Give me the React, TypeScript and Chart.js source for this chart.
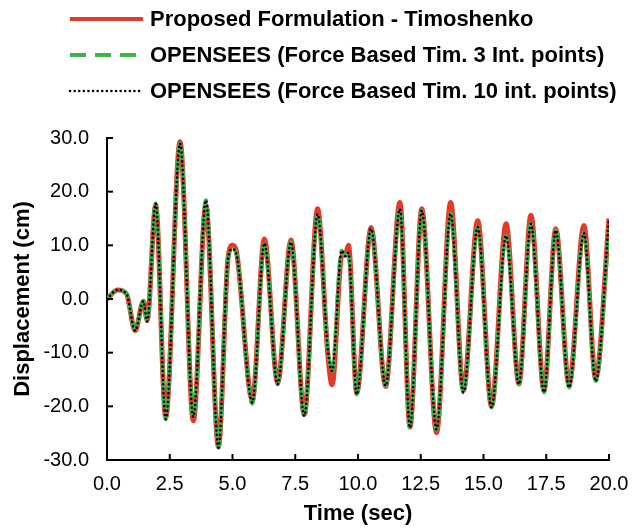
import React, { useEffect, useRef } from "react";
import { Chart, registerables } from "chart.js";

Chart.register(...registerables);

const times = [0, 0.42, 0.78, 1.12, 1.45, 1.6, 1.94, 2.34, 2.91, 3.44, 3.94, 4.44, 4.82, 5.0, 5.15, 5.79, 6.27, 6.8, 7.33, 7.86, 8.39, 8.8, 8.97, 9.35, 9.5, 9.62, 9.95, 10.52, 11.1, 11.67, 12.07, 12.54, 13.13, 13.69, 14.2, 14.77, 15.32, 15.9, 16.41, 16.89, 17.41, 17.88, 18.41, 19.0, 19.47, 20.0];
const proposed = [0, 1.7, 0.9, -5.9, -0.4, -4.0, 17.5, -22.0, 29.3, -22.7, 17.5, -27.5, 7.5, 10.0, 9.0, -18.8, 11.2, -15.6, 11.0, -21.5, 16.8, -10.5, -16.0, 8.0, 8.3, 10.0, -17.5, 13.3, -16.3, 18.0, -23.8, 16.8, -24.9, 18.0, -17.0, 14.6, -20.0, 14.0, -15.8, 15.6, -17.0, 13.1, -16.0, 13.7, -14.8, 15.0];
const fb3 = [0, 1.7, 0.9, -5.9, -0.4, -4.2, 17.8, -22.4, 29.0, -22.0, 18.4, -27.7, 7.5, 9.3, 8.5, -19.5, 10.4, -15.9, 10.6, -21.8, 15.8, -9.5, -13.4, 9.0, 8.0, 8.6, -17.8, 13.1, -16.2, 16.8, -24.0, 16.5, -24.3, 15.9, -17.4, 13.4, -20.2, 11.8, -15.9, 14.0, -17.4, 12.8, -16.5, 12.3, -15.3, 13.0];
const fb10 = [0, 1.7, 0.9, -5.9, -0.4, -4.2, 17.8, -22.4, 29.0, -22.0, 18.4, -27.7, 7.5, 9.3, 8.5, -19.3, 10.4, -15.9, 10.6, -21.8, 15.8, -9.5, -13.4, 9.0, 8.0, 8.6, -17.8, 13.1, -16.2, 16.8, -24.0, 16.5, -24.3, 15.9, -17.4, 13.4, -20.2, 11.8, -15.9, 14.0, -17.4, 12.8, -16.5, 12.3, -15.3, 15.0];

const seriesNames = [
  "Proposed Formulation - Timoshenko",
  "OPENSEES (Force Based Tim. 3 Int. points)",
  "OPENSEES (Force Based Tim. 10 int. points)",
];
const xTitle = "Time (sec)";
const yTitle = "Displacement (cm)";

const RED = "#e23b2a";
const GREEN = "#3bb54a";
const BLACK = "#000000";
const FONT = "'Liberation Sans', Arial, sans-serif";

const legendPlugin = {
  id: "customLegend",
  afterDraw(chart: any) {
    const ctx = chart.ctx;
    const rows = [19, 55, 91];
    const styles = [
      { color: RED, width: 4, dash: [] as number[], cap: "butt" },
      { color: GREEN, width: 4, dash: [16, 9], cap: "butt" },
      { color: BLACK, width: 2.5, dash: [0.1, 4.5], cap: "round" },
    ];
    ctx.save();
    rows.forEach((y, i) => {
      const s = styles[i];
      ctx.beginPath();
      ctx.strokeStyle = s.color;
      ctx.lineWidth = s.width;
      ctx.lineCap = s.cap;
      ctx.setLineDash(s.dash);
      ctx.moveTo(70, y);
      ctx.lineTo(143, y);
      ctx.stroke();
      ctx.setLineDash([]);
      ctx.fillStyle = "#000";
      ctx.font = "bold 22px " + FONT;
      ctx.textBaseline = "middle";
      ctx.textAlign = "left";
      ctx.fillText(seriesNames[i], 150, y + 1);
    });
    // inner tick marks
    const xs = chart.scales.x;
    const ys = chart.scales.y;
    const area = chart.chartArea;
    ctx.strokeStyle = "#000";
    ctx.lineWidth = 2;
    ctx.lineCap = "butt";
    xs.ticks.forEach((t: any) => {
      const px = xs.getPixelForValue(t.value);
      ctx.beginPath();
      ctx.moveTo(px, area.bottom);
      ctx.lineTo(px, area.bottom - 6);
      ctx.stroke();
    });
    ys.ticks.forEach((t: any) => {
      const py = ys.getPixelForValue(t.value);
      ctx.beginPath();
      ctx.moveTo(area.left, py);
      ctx.lineTo(area.left + 6, py);
      ctx.stroke();
    });
    ctx.restore();
  },
};

export default function App() {
  const ref = useRef<HTMLCanvasElement | null>(null);
  useEffect(() => {
    if (!ref.current) return;
    Chart.defaults.color = "#000";
    const mk = (vals: number[]) => times.map((t, i) => ({ x: t, y: vals[i] }));
    const chart = new Chart(ref.current, {
      type: "line",
      data: {
        datasets: [
          {
            label: seriesNames[0],
            data: mk(proposed),
            borderColor: RED,
            borderWidth: 5,
            pointRadius: 0,
            cubicInterpolationMode: "monotone",
            order: 3,
          },
          {
            label: seriesNames[1],
            data: mk(fb3),
            borderColor: GREEN,
            borderWidth: 4,
            borderDash: [12, 5],
            pointRadius: 0,
            cubicInterpolationMode: "monotone",
            order: 2,
          },
          {
            label: seriesNames[2],
            data: mk(fb10),
            borderColor: BLACK,
            borderWidth: 2.5,
            borderDash: [0.1, 4.3],
            borderCapStyle: "round",
            pointRadius: 0,
            cubicInterpolationMode: "monotone",
            order: 1,
          },
        ],
      },
      options: {
        animation: false,
        responsive: true,
        maintainAspectRatio: false,
        layout: { padding: { left: 0, top: 138, right: 35, bottom: 0 } },
        plugins: { legend: { display: false }, tooltip: { enabled: false } },
        scales: {
          x: {
            type: "linear",
            min: 0,
            max: 20,
            afterFit: (s: any) => {
              s.height = 68;
            },
            ticks: {
              stepSize: 2.5,
              padding: 12,
              maxRotation: 0,
              color: "#000",
              font: { family: FONT, size: 20 },
              callback: (v: any) => Number(v).toFixed(1),
            },
            grid: { display: true, drawOnChartArea: false, drawTicks: false },
            border: { display: true, width: 2, color: "#000" },
            title: {
              display: true,
              text: xTitle,
              color: "#000",
              font: { family: FONT, size: 22, weight: "bold" },
              padding: { top: 0, bottom: 1 },
            },
          },
          y: {
            min: -30,
            max: 30,
            afterFit: (s: any) => {
              s.width = 107;
            },
            ticks: {
              stepSize: 10,
              padding: 18,
              color: "#000",
              font: { family: FONT, size: 20 },
              callback: (v: any) => Number(v).toFixed(1),
            },
            grid: { display: true, drawOnChartArea: false, drawTicks: false },
            border: { display: true, width: 2, color: "#000" },
            title: {
              display: true,
              text: yTitle,
              color: "#000",
              font: { family: FONT, size: 22, weight: "bold" },
              padding: 10,
            },
          },
        },
      },
      plugins: [legendPlugin],
    } as any);
    return () => chart.destroy();
  }, []);
  return (
    <div style={{ position: "fixed", left: 0, top: 0, width: 644, height: 528, background: "#fff" }}>
      <canvas ref={ref} />
    </div>
  );
}
